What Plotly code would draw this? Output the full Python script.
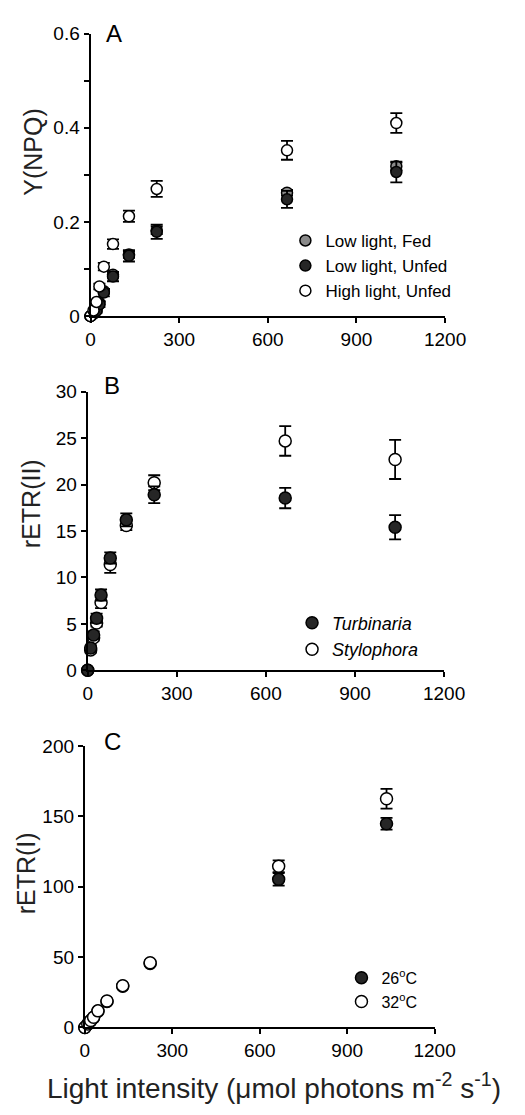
import plotly.graph_objects as go

# ---------------- data ----------------
light = [0, 10, 20, 30, 45, 76, 130, 224, 665, 1035]

# Panel A: Y(NPQ)
npq_ll_fed = [0, 0.006, 0.013, 0.028, 0.053, 0.088, 0.131, 0.182, 0.262, 0.318]
npq_ll_fed_err = [0.001, 0.002, 0.003, 0.004, 0.005, 0.006, 0.007, 0.008, 0.006, 0.008]
npq_ll_unfed = [0, 0.005, 0.011, 0.025, 0.050, 0.084, 0.128, 0.179, 0.248, 0.306]
npq_ll_unfed_err = [0.001, 0.003, 0.004, 0.006, 0.008, 0.010, 0.012, 0.015, 0.018, 0.022]
npq_hl_unfed = [0, 0.012, 0.030, 0.063, 0.105, 0.153, 0.212, 0.270, 0.352, 0.410]
npq_hl_unfed_err = [0.002, 0.003, 0.004, 0.006, 0.008, 0.010, 0.012, 0.017, 0.020, 0.021]

# Panel B: rETR(II)
etr2_turb = [0, 2.4, 3.8, 5.6, 8.1, 12.1, 16.2, 18.9, 18.55, 15.4]
etr2_turb_err = [0.1, 0.3, 0.4, 0.5, 0.6, 0.6, 0.7, 0.9, 1.1, 1.3]
etr2_stylo = [0, 2.2, 3.5, 5.1, 7.3, 11.4, 15.6, 20.2, 24.7, 22.7]
etr2_stylo_err = [0.1, 0.3, 0.3, 0.4, 0.6, 0.9, 0.5, 0.8, 1.6, 2.1]

# Panel C: rETR(I)
etr1_26 = [0, 2.3, 4.7, 7.0, 11.5, 18.4, 29.3, 45.5, 105.2, 144.7]
etr1_26_err = [0.2, 0.3, 0.4, 0.5, 0.6, 0.8, 1.0, 1.5, 4.5, 4.2]
etr1_32 = [0, 2.4, 4.9, 7.2, 11.8, 18.8, 29.7, 46.0, 114.5, 162.4]
etr1_32_err = [0.2, 0.3, 0.4, 0.5, 0.6, 0.8, 1.0, 1.5, 4.2, 7.0]

x_ticks = [0, 300, 600, 900, 1200]

# ---------------- layout helpers ----------------
W, H = 525, 1115
FONT = "Liberation Sans, Arial, Helvetica, sans-serif"
DARK = "#262626"
GRAY = "#8a8a8a"


def px(x):
    return x / W


def py(y):
    return 1 - y / H


def add(fig, y, err, name, fill, xa, ya, legend, size):
    fig.add_trace(go.Scatter(
        x=light, y=y, name=name, mode="markers",
        marker=dict(size=size, color=fill, line=dict(color="black", width=1.5)),
        error_y=dict(type="data", array=err, visible=True, color="black",
                     thickness=1.8, width=6),
        xaxis=xa, yaxis=ya, legend=legend, cliponaxis=False,
    ))


fig = go.Figure()

# Panel A
add(fig, npq_ll_fed, npq_ll_fed_err, "Low light, Fed", GRAY, "x", "y", "legend", 11)
add(fig, npq_ll_unfed, npq_ll_unfed_err, "Low light, Unfed", DARK, "x", "y", "legend", 11)
add(fig, npq_hl_unfed, npq_hl_unfed_err, "High light, Unfed", "white", "x", "y", "legend", 11)

# Panel B (Stylophora first so Turbinaria sits on top)
add(fig, etr2_stylo, etr2_stylo_err, "<i>Stylophora</i>", "white", "x2", "y2", "legend2", 12)
add(fig, etr2_turb, etr2_turb_err, "<i>Turbinaria</i>", DARK, "x2", "y2", "legend2", 12)

# Panel C
add(fig, etr1_26, etr1_26_err, "26<sup>o</sup>C", DARK, "x3", "y3", "legend3", 12)
add(fig, etr1_32, etr1_32_err, "32<sup>o</sup>C", "white", "x3", "y3", "legend3", 12)

axis_common = dict(
    showline=True, linecolor="black", linewidth=2,
    ticks="outside", ticklen=5, tickwidth=2, tickcolor="black",
    showgrid=False, zeroline=False,
    tickfont=dict(family=FONT, size=19, color="black"),
)

xcommon = dict(axis_common, range=[0, 1200], tickmode="array", tickvals=x_ticks,
               ticklabelstandoff=0)

fig.update_layout(
    width=W, height=H,
    margin=dict(l=0, r=0, t=0, b=0),
    paper_bgcolor="white", plot_bgcolor="white",
    font=dict(family=FONT, color="black"),
    xaxis=dict(xcommon, domain=[px(90), px(463)], anchor="y"),
    yaxis=dict(axis_common, domain=[py(312), py(24)], anchor="x",
               range=[0, 0.6], tickmode="array", tickvals=[0, 0.2, 0.4, 0.6],
               ticktext=["0", "0.2", "0.4", "0.6"],
               minor=dict(tickvals=[0.1, 0.3, 0.5], ticks="outside", ticklen=5,
                          tickwidth=2, tickcolor="black")),
    xaxis2=dict(xcommon, domain=[px(87), px(462)], anchor="y2"),
    yaxis2=dict(axis_common, domain=[py(673), py(389)], anchor="x2",
                range=[0, 30], tickmode="array", tickvals=[0, 5, 10, 15, 20, 25, 30]),
    xaxis3=dict(xcommon, domain=[px(84), px(452)], anchor="y3"),
    yaxis3=dict(axis_common, domain=[py(1037), py(750)], anchor="x3",
                range=[0, 200], tickmode="array", tickvals=[0, 50, 100, 150, 200]),
    legend=dict(x=px(295), y=py(217), xanchor="left", yanchor="top",
                font=dict(family=FONT, size=17, color="black"),
                bgcolor="rgba(0,0,0,0)", tracegroupgap=0, itemwidth=30),
    legend2=dict(x=px(302), y=py(606), xanchor="left", yanchor="top",
                 font=dict(family=FONT, size=18, color="black"),
                 bgcolor="rgba(0,0,0,0)", traceorder="reversed", itemwidth=30),
    legend3=dict(x=px(354), y=py(969), xanchor="left", yanchor="top",
                 font=dict(family=FONT, size=16, color="black"),
                 bgcolor="rgba(0,0,0,0)", itemwidth=30),
    showlegend=True,
)

annotations = [
    dict(text="A", x=px(115), y=py(24)),
    dict(text="B", x=px(113), y=py(383)),
    dict(text="C", x=px(113), y=py(746)),
]
ann = []
for a in annotations:
    ann.append(dict(a, xref="paper", yref="paper", showarrow=False,
                    xanchor="center", yanchor="middle",
                    font=dict(family=FONT, size=24, color="black")))

ytitles = [("Y(NPQ)", 30, 145), ("rETR(II)", 27, 503), ("rETR(I)", 23, 880)]
for t, xx, yy in ytitles:
    ann.append(dict(text=t, x=px(xx), y=py(yy), xref="paper", yref="paper",
                    showarrow=False, textangle=-90, xanchor="center", yanchor="middle",
                    font=dict(family=FONT, size=25, color="#222222")))

ann.append(dict(text="Light intensity (\u03bcmol photons m<sup>-2</sup> s<sup>-1</sup>)",
                x=px(283), y=py(1097), xref="paper", yref="paper", showarrow=False,
                xanchor="center", yanchor="middle",
                font=dict(family=FONT, size=28, color="#222222")))

fig.update_layout(annotations=ann)

fig.write_html("out.html")
